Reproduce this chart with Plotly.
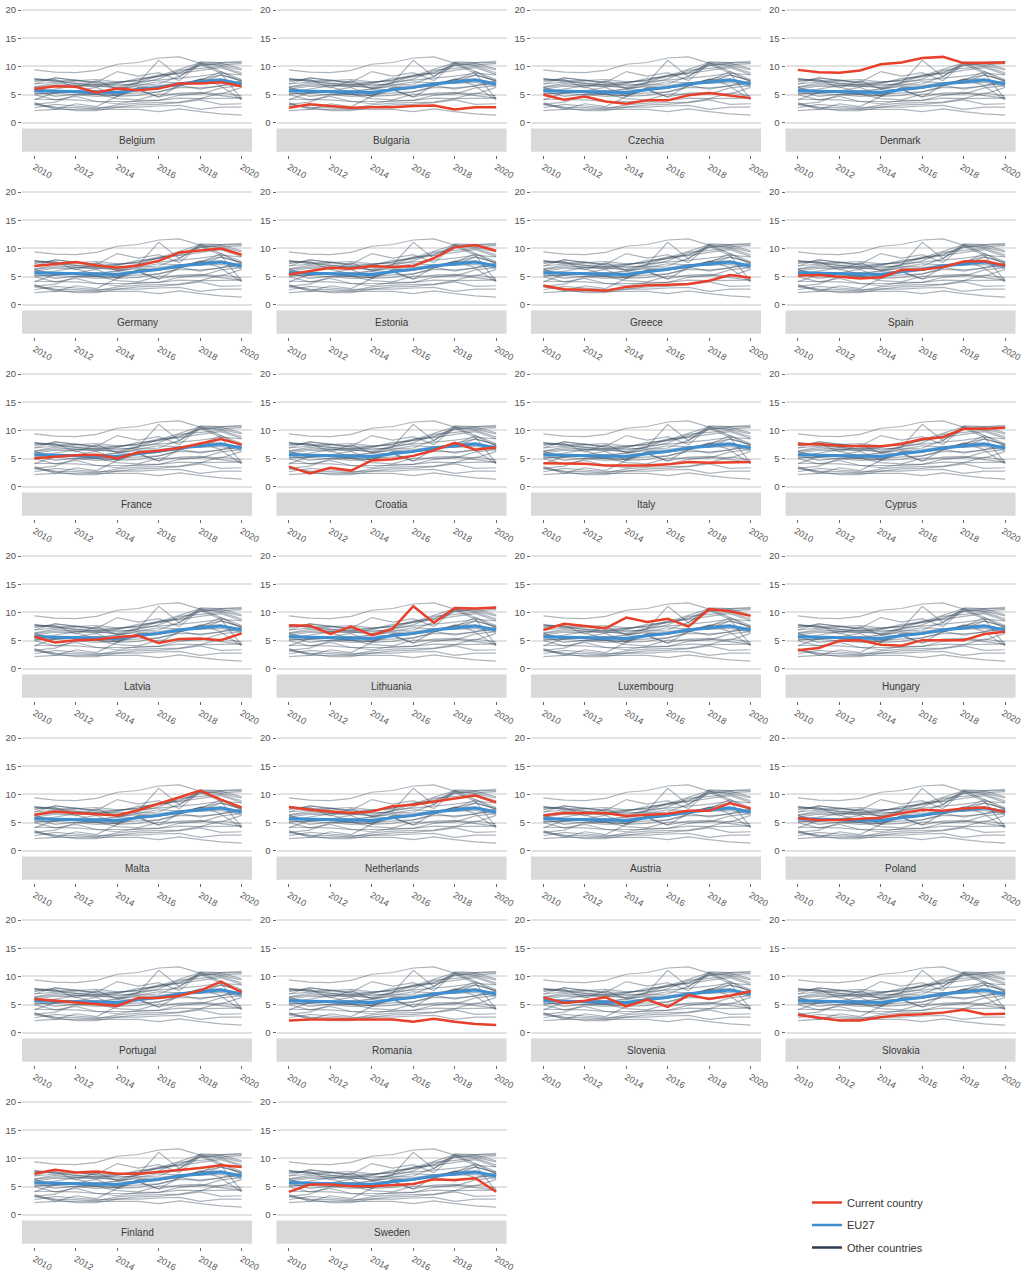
import plotly.graph_objects as go

years = list(range(2010, 2021))

countries = ["Belgium", "Bulgaria", "Czechia", "Denmark", "Germany", "Estonia", "Greece", "Spain",
             "France", "Croatia", "Italy", "Cyprus", "Latvia", "Lithuania", "Luxembourg", "Hungary",
             "Malta", "Netherlands", "Austria", "Poland", "Portugal", "Romania", "Slovenia", "Slovakia",
             "Finland", "Sweden"]

belgium = [6.0, 6.5, 6.4, 5.4, 6.1, 5.8, 6.1, 7.0, 7.0, 7.2, 6.5]
bulgaria = [2.7, 3.3, 3.0, 2.7, 2.8, 2.8, 3.0, 3.1, 2.4, 2.8, 2.8]
czechia = [5.0, 4.1, 4.7, 3.8, 3.4, 4.0, 4.0, 4.9, 5.3, 4.9, 4.4]
denmark = [9.4, 9.0, 8.9, 9.3, 10.4, 10.7, 11.5, 11.7, 10.6, 10.7, 10.7]
germany = [6.9, 7.2, 7.6, 7.0, 6.6, 7.0, 7.8, 9.3, 9.6, 10.0, 8.9]
estonia = [5.4, 6.0, 6.6, 6.4, 6.9, 6.7, 6.9, 8.3, 10.2, 10.6, 9.6]
greece = [3.4, 2.8, 2.7, 2.5, 3.2, 3.5, 3.6, 3.7, 4.3, 5.3, 4.8]
spain = [5.2, 5.3, 5.0, 4.7, 4.9, 6.2, 6.3, 6.7, 7.7, 7.8, 7.0]
france = [5.1, 5.4, 5.6, 5.7, 5.1, 6.1, 6.4, 6.9, 7.7, 8.5, 7.5]
croatia = [3.6, 2.4, 3.4, 2.9, 4.7, 4.9, 5.5, 6.5, 7.8, 6.6, 7.0]
italy = [4.2, 4.2, 4.1, 3.8, 3.8, 3.8, 4.0, 4.4, 4.3, 4.4, 4.4]
cyprus = [7.5, 7.6, 7.3, 7.3, 7.2, 7.6, 8.5, 8.8, 10.3, 10.3, 10.5]
latvia = [5.7, 4.7, 5.1, 5.2, 5.6, 5.9, 4.6, 5.3, 5.4, 5.1, 6.3]
lithuania = [7.7, 7.7, 6.2, 7.5, 6.0, 7.1, 11.1, 8.2, 10.8, 10.7, 10.9]
luxembourg = [6.9, 8.0, 7.6, 7.2, 9.1, 8.3, 8.9, 7.5, 10.6, 10.2, 9.4]
hungary = [3.3, 3.7, 5.0, 5.1, 4.3, 4.1, 5.1, 5.1, 5.1, 6.2, 6.6]
malta = [6.4, 7.0, 6.7, 6.5, 6.3, 7.2, 8.3, 9.5, 10.7, 9.1, 7.7]
netherlands = [7.8, 7.3, 7.0, 6.7, 7.0, 7.9, 8.2, 8.8, 9.3, 9.8, 8.6]
austria = [6.3, 6.7, 6.7, 6.7, 6.2, 6.4, 6.6, 7.1, 7.1, 8.5, 7.5]
poland = [5.8, 5.5, 5.5, 5.7, 5.9, 6.7, 7.3, 7.1, 7.5, 7.7, 6.9]
portugal = [6.0, 5.7, 5.3, 5.0, 4.8, 6.2, 6.2, 6.6, 7.5, 9.1, 7.2]
romania = [2.2, 2.4, 2.4, 2.4, 2.4, 2.4, 2.0, 2.5, 2.0, 1.6, 1.4]
slovenia = [6.3, 5.3, 5.7, 6.3, 4.7, 5.9, 4.6, 6.7, 6.0, 6.6, 7.4]
slovakia = [3.2, 2.7, 2.2, 2.2, 2.8, 3.2, 3.3, 3.6, 4.1, 3.3, 3.4]
finland = [7.3, 8.0, 7.5, 7.7, 7.3, 7.3, 7.6, 7.9, 8.3, 8.8, 8.5]
sweden = [4.1, 5.4, 5.4, 5.1, 5.1, 5.3, 5.5, 6.3, 6.2, 6.5, 4.1]
# country drawn only among the grey "other countries"
ireland = [7.9, 7.4, 7.0, 6.8, 7.2, 7.6, 8.3, 9.0, 10.4, 8.8, 4.2]

eu27 = [5.7, 5.6, 5.5, 5.4, 5.4, 5.9, 6.3, 6.9, 7.3, 7.6, 6.9]

series = [belgium, bulgaria, czechia, denmark, germany, estonia, greece, spain,
          france, croatia, italy, cyprus, latvia, lithuania, luxembourg, hungary,
          malta, netherlands, austria, poland, portugal, romania, slovenia, slovakia,
          finland, sweden]
all_series = series + [ireland]

RED = "#e8402a"
BLUE = "#3d8fd1"
GREY = "rgba(50,70,90,0.40)"
DARK = "#2c3e50"
FONT = "Liberation Sans, Arial, sans-serif"

W, H = 1024, 1273
fig = go.Figure()
layout = dict(template="none", width=W, height=H, margin=dict(l=0, r=0, t=0, b=0, autoexpand=False),
              paper_bgcolor="white", plot_bgcolor="white",
              font=dict(family=FONT, size=9.5, color="#555"),
              shapes=[], annotations=[])

# grey lines combined (separated with None)
gx, gy = [], []
for s in all_series:
    gx += years + [None]
    gy += s + [None]

for i, (name, vals) in enumerate(zip(countries, series)):
    r, c = divmod(i, 4)
    k = i + 1
    xs = "x" if k == 1 else f"x{k}"
    ys = "y" if k == 1 else f"y{k}"
    left = 22 + c * 254.5
    right = left + 230
    top = 4.35 + r * 182
    bottom = 154.6 + r * 182
    layout["xaxis" if k == 1 else f"xaxis{k}"] = dict(
        domain=[left / W, right / W], anchor=ys, range=[2009.4, 2020.5], automargin=False,
        tickvals=[2010, 2012, 2014, 2016, 2018, 2020], tickangle=30, ticklabeloverflow="allow",
        ticklabelshift=-2 if c == 3 else 0,
        ticks="outside", ticklen=3, tickcolor="#666", showgrid=False, zeroline=False,
        showline=False, tickfont=dict(size=9, color="#555"))
    layout["yaxis" if k == 1 else f"yaxis{k}"] = dict(
        domain=[1 - bottom / H, 1 - top / H], anchor=xs, range=[-5.6, 21], automargin=False,
        tickvals=[0, 5, 10, 15, 20], ticks="outside", ticklen=3, tickcolor="#666",
        ticklabeloverflow="allow",
        showgrid=True, gridcolor="#e2e2e2", gridwidth=1.5, zeroline=False, showline=False,
        tickfont=dict(size=9.5, color="#555"))
    layout["shapes"].append(dict(type="rect", xref=f"{xs} domain", yref=ys, x0=0, x1=1,
                                 y0=-5.1, y1=-1.0, fillcolor="#d9d9d9", line=dict(width=0),
                                 layer="below"))
    layout["annotations"].append(dict(text=name, xref=f"{xs} domain", yref=ys, x=0.5, y=-3.05,
                                      showarrow=False, font=dict(size=10, color="#3a3a3a")))
    fig.add_trace(go.Scatter(x=gx, y=gy, xaxis=xs, yaxis=ys, mode="lines",
                             line=dict(color=GREY, width=1.2), showlegend=False,
                             hoverinfo="skip", connectgaps=False))
    fig.add_trace(go.Scatter(x=years, y=eu27, xaxis=xs, yaxis=ys, mode="lines",
                             line=dict(color=BLUE, width=3), showlegend=False, name="EU27"))
    fig.add_trace(go.Scatter(x=years, y=vals, xaxis=xs, yaxis=ys, mode="lines",
                             line=dict(color=RED, width=2.5), showlegend=False, name=name))

# legend entries
for nm, col in [("Current country", RED), ("EU27", BLUE), ("Other countries", DARK)]:
    fig.add_trace(go.Scatter(x=[None], y=[None], mode="lines", name=nm, legendgroup=nm,
                             line=dict(color=col, width=2.5), showlegend=True))

layout["legend"] = dict(x=807 / W, y=1 - 1188 / H, xanchor="left", yanchor="top",
                        font=dict(size=11, color="#333"), itemwidth=30, tracegroupgap=3.5,
                        bgcolor="rgba(0,0,0,0)")
fig.update_layout(**layout)
fig.write_html("out.html", config={"displayModeBar": False},
               post_script="document.body.style.margin='0px';document.body.style.overflow='hidden';")
